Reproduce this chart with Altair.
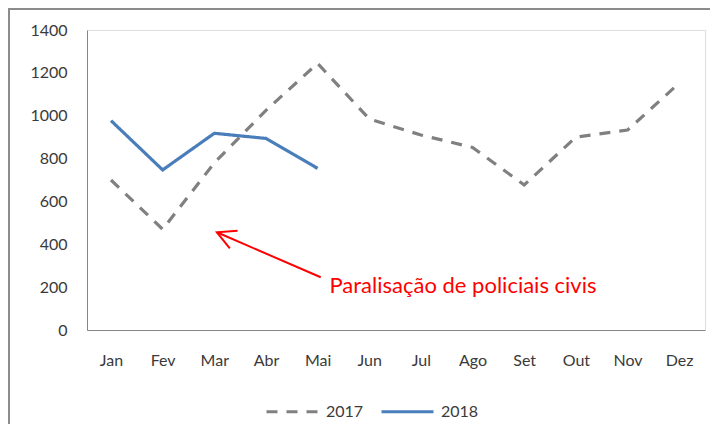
import altair as alt
import pandas as pd

months = ["Jan", "Fev", "Mar", "Abr", "Mai", "Jun", "Jul", "Ago", "Set", "Out", "Nov", "Dez"]
values_2017 = [700, 470, 780, 1025, 1244, 985, 910, 852, 677, 900, 933, 1152]
values_2018 = [977, 747, 918, 894, 754]
series = ["2017", "2018"]

annotation_text = "Paralisação de policiais civis"
annotation_pos = [4.23, 205]
arrow_shaft_x = [4.06, 2.05]
arrow_shaft_y = [246, 456]
arrow_head_x = [2.45, 2.05, 2.30]
arrow_head_y = [463, 456, 381]

rows = []
for i, v in enumerate(values_2017):
    rows.append({"idx": i, "month": months[i], "value": v, "series": series[0]})
for i, v in enumerate(values_2018):
    rows.append({"idx": i, "month": months[i], "value": v, "series": series[1]})
df = pd.DataFrame(rows)

arrow_rows = []
for k, (x, y) in enumerate(zip(arrow_shaft_x, arrow_shaft_y)):
    arrow_rows.append({"x": x, "y": y, "part": "shaft", "o": k})
for k, (x, y) in enumerate(zip(arrow_head_x, arrow_head_y)):
    arrow_rows.append({"x": x, "y": y, "part": "head", "o": k})
arrow_df = pd.DataFrame(arrow_rows)

text_df = pd.DataFrame([{"x": annotation_pos[0], "y": annotation_pos[1], "t": annotation_text}])

FONT = "Lato"
LABEL_COLOR = "#3a3a3a"
label_expr = "[" + ",".join("'" + m + "'" for m in months) + "][datum.value]"

xscale = alt.Scale(domain=[-0.465, 11.5], nice=False, zero=False)
yscale = alt.Scale(domain=[0, 1400], nice=False)

legend = alt.Legend(
    title=None,
    orient="none",
    legendX=178,
    legendY=354,
    padding=0,
    direction="horizontal",
    symbolType="stroke",
    symbolSize=2704,
    symbolStrokeWidth=3,
    labelFontSize=16,
    labelFont=FONT,
    labelColor=LABEL_COLOR,
    labelOffset=6,
    columnPadding=11,
)

lines = alt.Chart(df).mark_line(strokeWidth=3.2).encode(
    x=alt.X("idx:Q", scale=xscale,
            axis=alt.Axis(title=None, values=list(range(12)), labelExpr=label_expr,
                          ticks=False, grid=False, domainColor="#868686", domainWidth=1,
                          labelFontSize=16, labelFont=FONT, labelColor=LABEL_COLOR,
                          labelPadding=22)),
    y=alt.Y("value:Q", scale=yscale,
            axis=alt.Axis(title=None, values=list(range(0, 1401, 200)), format="d", ticks=False,
                          grid=False, domainColor="#868686", domainWidth=1,
                          labelFontSize=16, labelFont=FONT, labelColor=LABEL_COLOR,
                          labelPadding=20)),
    color=alt.Color("series:N", scale=alt.Scale(domain=series, range=["#808080", "#4a7ebb"]),
                    legend=legend),
    strokeDash=alt.StrokeDash("series:N", scale=alt.Scale(domain=series, range=[[11, 9], [1, 0]]),
                              legend=legend),
    order="idx:Q",
)

arrow = alt.Chart(arrow_df).mark_line(color="#ff0000", strokeWidth=2).encode(
    x=alt.X("x:Q", scale=xscale),
    y=alt.Y("y:Q", scale=yscale),
    detail="part:N",
    order="o:Q",
)

text = alt.Chart(text_df).mark_text(align="left", baseline="middle", color="#ff0000",
                                    font=FONT, fontSize=22).encode(
    x=alt.X("x:Q", scale=xscale),
    y=alt.Y("y:Q", scale=yscale),
    text="t:N",
)

frame = alt.Chart(alt.Data(values=[{"a": 1}])).mark_rect(
    fill=None, stroke="#8c8c8c", strokeWidth=2
).encode(
    x=alt.value(-78), x2=alt.value(800), y=alt.value(-21), y2=alt.value(600)
)

chart = alt.layer(frame, lines, arrow, text).properties(
    width=618,
    height=300,
    padding={"left": 79, "top": 22, "right": 5, "bottom": 94},
    autosize=alt.AutoSizeParams(type="none"),
).configure_view(stroke=None).configure(background="white")

chart.save("out.html", embed_options={"renderer": "svg", "actions": False})
